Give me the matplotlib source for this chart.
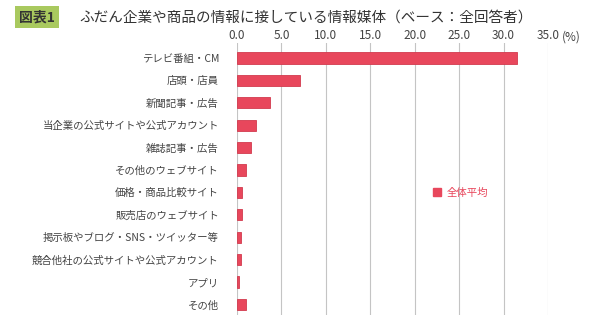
import matplotlib
matplotlib.use('Agg')
import matplotlib.pyplot as plt
import matplotlib.patches as mpatches

plt.rcParams['font.family'] = ['Noto Sans CJK JP', 'DejaVu Sans']

# Data
categories = ['テレビ番組・CM', '店頭・店員', '新聞記事・広告', '当企業の公式サイトや公式アカウント',
              '雑誌記事・広告', 'その他のウェブサイト', '価格・商品比較サイト', '販売店のウェブサイト',
              '掲示板やブログ・SNS・ツイッター等', '競合他社の公式サイトや公式アカウント', 'アプリ', 'その他']
values = [31.5, 7.1, 3.7, 2.1, 1.6, 1.0, 0.6, 0.6, 0.5, 0.4, 0.2, 1.0]
tick_values = [0, 5, 10, 15, 20, 25, 30, 35]
series_name = '全体平均'
title = 'ふだん企業や商品の情報に接している情報媒体（ベース：全回答者）'

bar_color = '#E8475C'
text_color = '#444444'

fig = plt.figure(figsize=(6, 3.15), dpi=100)
ax = fig.add_axes([0.395, 0.0, 0.5183, 0.8635])

ypos = list(range(len(categories)))
ax.barh(ypos, values, height=0.5, color=bar_color, edgecolor='#D23A4E', linewidth=0.6)

ax.set_xlim(0, 35)
ax.set_ylim(11.47, -0.67)
ax.set_yticks(ypos)
ax.set_yticklabels(categories, fontsize=7.5, color=text_color)
ax.tick_params(axis='y', length=0, pad=13)

ax.xaxis.tick_top()
ax.set_xticks(tick_values)
ax.set_xticklabels([f'{v:.1f}' for v in tick_values], fontsize=8.5, color=text_color)
ax.tick_params(axis='x', length=0, pad=0.8)

for v in tick_values:
    ax.axvline(v, color='#c4c4c4', linewidth=0.8, zorder=0)
for s in ax.spines.values():
    s.set_visible(False)

fig.text(0.953, 0.884, '(%)', fontsize=8.5, color=text_color, ha='center', va='center')

# Title with green label
fig.text(0.062, 0.945, '図表1', fontsize=10, color='#333333', ha='center', va='center',
         fontweight='bold',
         bbox=dict(boxstyle='square,pad=0.3', facecolor='#A9C95F', edgecolor='none'))
fig.text(0.133, 0.945, title, fontsize=10.5, color='#333333', ha='left', va='center')

# Legend
ax.legend(handles=[mpatches.Patch(color=bar_color, label=series_name)],
          loc='center', bbox_to_anchor=(0.72, 0.45), frameon=False,
          fontsize=7.5, labelcolor=bar_color, handlelength=0.7, handleheight=0.7,
          handletextpad=0.6)

fig.savefig('out.png', dpi=100, facecolor='white')
